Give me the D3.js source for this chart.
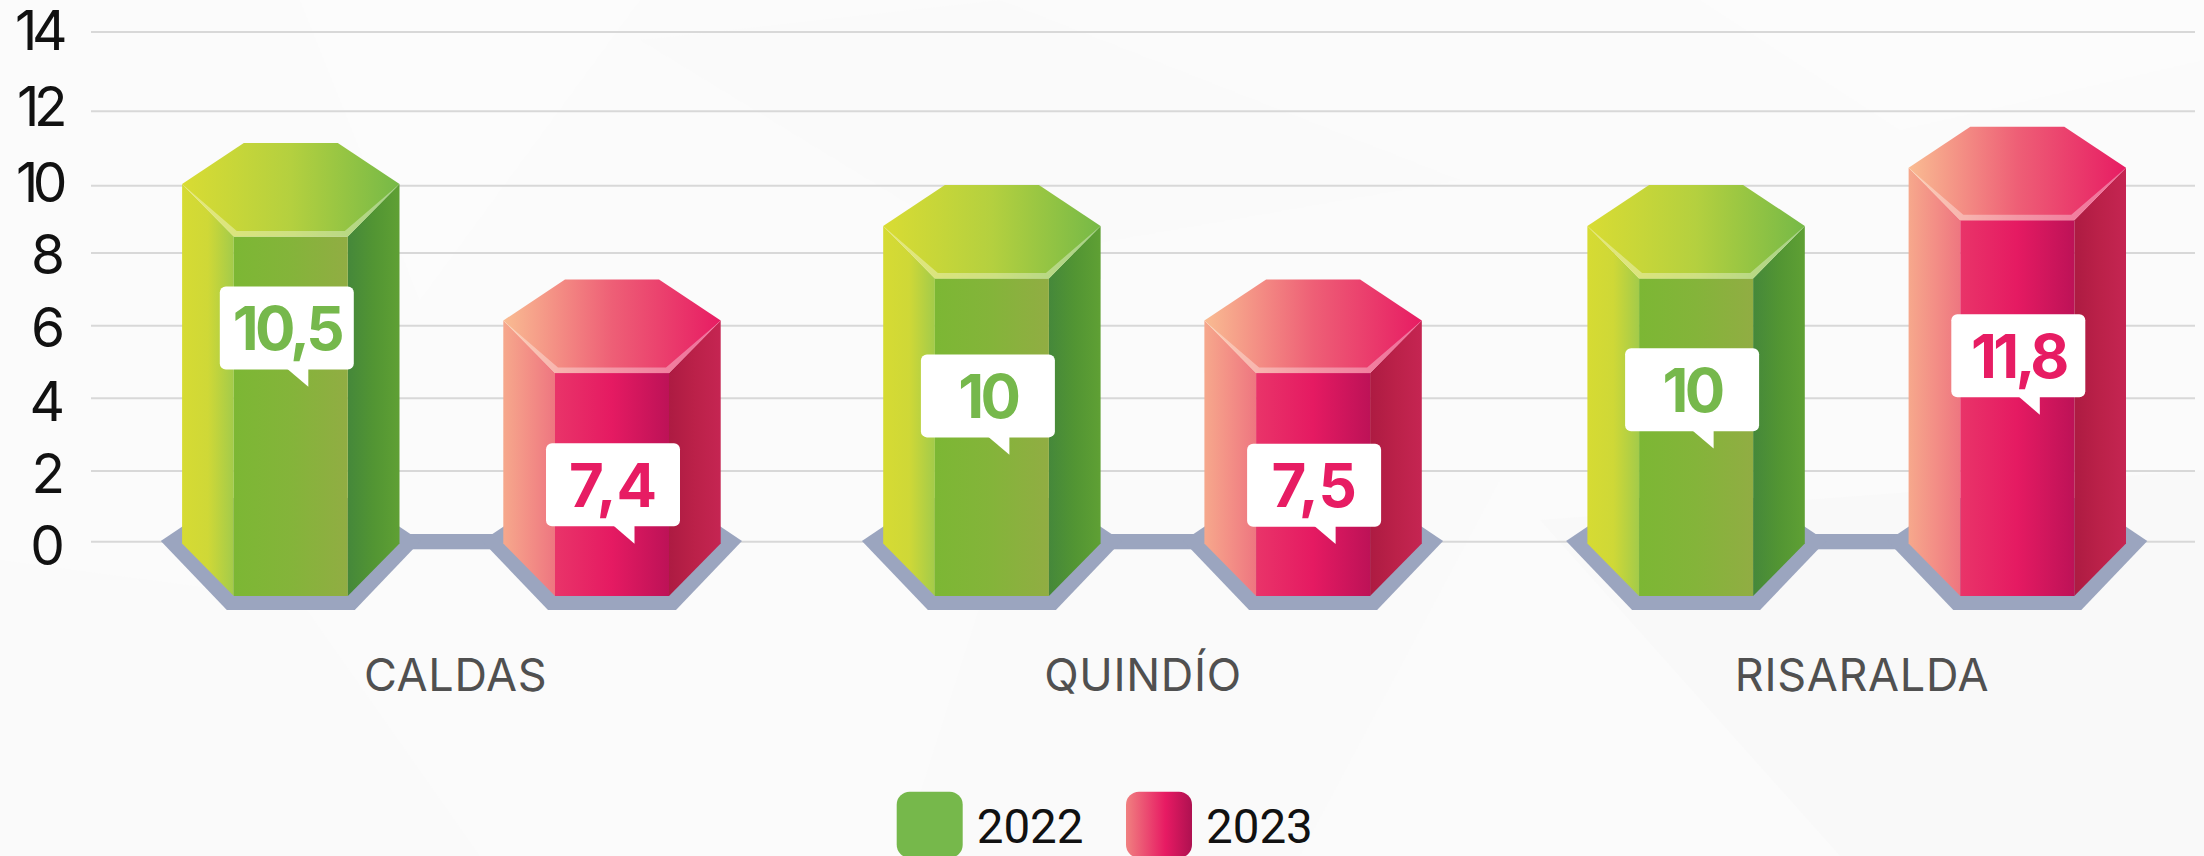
<!DOCTYPE html>
<html>
<head>
<meta charset="utf-8">
<script src="https://cdn.jsdelivr.net/npm/d3@7"></script>
<style>
  html, body { margin: 0; padding: 0; background: #fbfbfb; }
  svg { display: block; }
</style>
</head>
<body>
<div id="chart"></div>
<script>
// Data
const categories = ['CALDAS', 'QUINDÍO', 'RISARALDA'];
const seriesNames = ['2022', '2023'];
const values2022 = [10.5, 10, 10];
const values2023 = [7.4, 7.5, 11.8];
const yTicks = [0, 2, 4, 6, 8, 10, 12, 14];

// The columns are not drawn to their labels, so these are what they read on the axis
const levels2022 = [10.03, 8.79, 8.79];
const levels2023 = [6.13, 6.13, 10.47];
// Axis reading of the lower edge of each value bubble
const bubbleLevels2022 = [4.78, 2.91, 3.08];
const bubbleLevels2023 = [0.42, 0.41, 4.01];

const width = 2204;
const height = 856;

// The gridlines in the source are not evenly spaced
const y = d3.scaleLinear().domain(yTicks).range([541.2, 470.5, 397.7, 325.3, 252.5, 185.2, 110.7, 31.6]);
const yLabel = d3.scaleLinear().domain(yTicks).range([545, 473, 400.5, 327, 253.6, 181.7, 106, 30]);
const xGroup = d3.scaleOrdinal(categories, [451.4, 1152.5, 1856.7]);
const xLabel = d3.scaleOrdinal(categories, [455.6, 1143, 1862]);
const xSeries = d3.scaleOrdinal(seriesNames, [-160.6, 160.6]);

const styles = {
  '2022': {
    text: '#76b84c',
    left: ['#d6db33', '#cfd837', '#a3cb4a'],
    front: ['#7cb734', '#84b43a', '#91ad43'],
    right: ['#45883a', '#529533', '#5fa034'],
    top: ['#d9dc33', '#b4d03f', '#76b947']
  },
  '2023': {
    text: '#e71c63',
    left: ['#f6a88c', '#f38f86', '#ee7680'],
    front: ['#e93469', '#e51a62', '#bd1257'],
    right: ['#ad1b42', '#bb2149', '#c52552'],
    top: ['#f9bc92', '#ee5f76', '#e71c63']
  }
};

const svg = d3.select('#chart').append('svg').attr('width', width).attr('height', height);
const defs = svg.append('defs');

// One horizontal gradient per series and face
seriesNames.forEach(name => {
  ['left', 'front', 'right', 'top'].forEach(face => {
    const grad = defs.append('linearGradient').attr('id', `g${name}-${face}`);
    styles[name][face].forEach((c, i) => {
      grad.append('stop').attr('offset', i / 2).attr('stop-color', c);
    });
  });
});
const legendGrad = defs.append('linearGradient').attr('id', 'legend2023');
[['0', '#f08080'], ['0.6', '#e71a63'], ['1', '#ae1150']].forEach(s => {
  legendGrad.append('stop').attr('offset', s[0]).attr('stop-color', s[1]);
});

// Faint low-poly backdrop
svg.append('rect').attr('width', width).attr('height', height).attr('fill', '#fbfbfb');
const backdrop = [
  ['#fafafa', [[0, 560], [300, 600], [480, 856], [0, 856]]],
  ['#fcfcfc', [[300, 0], [640, 0], [420, 300]]],
  ['#fafafa', [[1020, 480], [1500, 480], [1300, 856], [900, 856]]],
  ['#f9f9f9', [[1540, 520], [2204, 470], [2204, 856], [1840, 856]]],
  ['#fcfcfc', [[1700, 0], [2204, 0], [2204, 60], [1900, 130]]],
  ['#fafafa', [[640, 40], [1000, 0], [1460, 180], [1000, 260]]]
];
svg.append('g').selectAll('polygon').data(backdrop).join('polygon')
  .attr('fill', d => d[0])
  .attr('points', d => d[1].join(' '));

// Gridlines
svg.append('g')
  .attr('transform', 'translate(91,0)')
  .call(d3.axisRight(y).tickValues(yTicks).tickSize(2104).tickFormat(''))
  .call(g => g.select('.domain').remove())
  .call(g => g.selectAll('line').attr('stroke', '#d8d8d8').attr('stroke-width', 2));

// Tick labels
svg.append('g')
  .attr('transform', 'translate(65,0)')
  .call(d3.axisLeft(yLabel).tickValues(yTicks).tickSize(0).tickPadding(0).tickFormat(d3.format('d')))
  .call(g => g.select('.domain').remove())
  .call(g => g.selectAll('text')
    .attr('fill', '#111')
    .attr('dy', '0.36em')
    .attr('dx', d => d > 9 ? -3 : 0)
    .style('font-family', 'Inter, sans-serif')
    .style('font-size', '55px')
    .style('letter-spacing', d => d > 9 ? '-0.1em' : '0'));

const marks = [];
categories.forEach((cat, i) => {
  marks.push({ cat, name: '2022', value: values2022[i], level: levels2022[i], bubble: bubbleLevels2022[i], nudge: -4 });
  marks.push({ cat, name: '2023', value: values2023[i], level: levels2023[i], bubble: bubbleLevels2023[i], nudge: 1 });
});

const polygon = d3.line().curve(d3.curveLinearClosed);

// Column shape, relative to the column centre
const halfBar = 108.7;
const halfFront = 57;
const halfTop = 47;
const sideBottom = 543.5;
const frontBottom = 596;
const topRise = 41;
const frontDrop = 52.5;

// Slate plinth under each group
const plinth = svg.append('g').attr('fill', '#9ba5bf');
plinth.selectAll('rect').data(categories).join('rect')
  .attr('x', d => xGroup(d) - 60)
  .attr('width', 120)
  .attr('y', 534)
  .attr('height', 15.3);
plinth.selectAll('path').data(marks).join('path')
  .attr('d', d => {
    const cx = xGroup(d.cat) + xSeries(d.name);
    return polygon([
      [cx - 130, 541], [cx - 66, 498], [cx + 66, 498],
      [cx + 130, 541], [cx + 64, 610], [cx - 64, 610]
    ]);
  });

const bars = svg.append('g').selectAll('g').data(marks).join('g');

bars.append('path')
  .attr('fill', d => `url(#g${d.name}-left)`)
  .attr('d', d => {
    const cx = xGroup(d.cat) + xSeries(d.name);
    const s = y(d.level);
    return polygon([[cx - halfBar, s], [cx - halfFront, s + frontDrop], [cx - halfFront, frontBottom], [cx - halfBar, sideBottom]]);
  });

bars.append('path')
  .attr('fill', d => `url(#g${d.name}-right)`)
  .attr('d', d => {
    const cx = xGroup(d.cat) + xSeries(d.name);
    const s = y(d.level);
    return polygon([[cx + halfFront, s + frontDrop], [cx + halfBar, s], [cx + halfBar, sideBottom], [cx + halfFront, frontBottom]]);
  });

bars.append('rect')
  .attr('fill', d => `url(#g${d.name}-front)`)
  .attr('x', d => xGroup(d.cat) + xSeries(d.name) - halfFront)
  .attr('width', halfFront * 2)
  .attr('y', d => y(d.level) + frontDrop)
  .attr('height', d => frontBottom - y(d.level) - frontDrop);

bars.append('path')
  .attr('fill', d => `url(#g${d.name}-top)`)
  .attr('d', d => {
    const cx = xGroup(d.cat) + xSeries(d.name);
    const s = y(d.level);
    return polygon([
      [cx - halfBar, s], [cx - halfTop, s - topRise], [cx + halfTop, s - topRise],
      [cx + halfBar, s], [cx + halfFront, s + frontDrop], [cx - halfFront, s + frontDrop]
    ]);
  });

// Light bevel along the front edge of the cap
bars.append('path')
  .attr('fill', '#fff')
  .attr('fill-opacity', 0.35)
  .attr('d', d => {
    const cx = xGroup(d.cat) + xSeries(d.name);
    const s = y(d.level);
    return polygon([
      [cx - halfBar, s], [cx - halfFront, s + frontDrop], [cx + halfFront, s + frontDrop],
      [cx + halfBar, s], [cx + halfFront - 3, s + frontDrop - 5.5], [cx - halfFront + 3, s + frontDrop - 5.5]
    ]);
  });

// Value bubbles
const bubbleW = 134;
const bubbleH = 83;
const bubbles = svg.append('g').selectAll('g').data(marks).join('g')
  .attr('transform', d => `translate(${xGroup(d.cat) + xSeries(d.name) + d.nudge},${y(d.bubble)})`);

bubbles.append('rect')
  .attr('x', -bubbleW / 2)
  .attr('y', -bubbleH)
  .attr('width', bubbleW)
  .attr('height', bubbleH)
  .attr('rx', 6)
  .attr('fill', '#fff');

bubbles.append('path')
  .attr('fill', '#fff')
  .attr('d', polygon([[0, -1], [21.5, 17.3], [21.5, -1]]));

bubbles.append('text')
  .attr('text-anchor', 'middle')
  .attr('y', -bubbleH / 2 + 22)
  .attr('fill', d => styles[d.name].text)
  .style('font-family', 'Inter, sans-serif')
  .style('font-weight', 700)
  .style('font-size', '60px')
  .style('letter-spacing', d => d.value === 7.4 || d.value === 7.5 ? '0' : '-0.06em')
  .text(d => String(d.value).replace('.', ','));

// Category labels
svg.append('g').selectAll('text').data(categories).join('text')
  .attr('x', d => xLabel(d))
  .attr('y', 691)
  .attr('text-anchor', 'middle')
  .attr('fill', '#505050')
  .style('font-family', 'Inter, sans-serif')
  .style('font-size', '45px')
  .style('font-weight', 400)
  .style('letter-spacing', '0.015em')
  .text(d => d);

// Legend
const legendX = d3.scaleOrdinal(seriesNames, [896.7, 1126]);
const legend = svg.append('g').selectAll('g').data(seriesNames).join('g')
  .attr('transform', d => `translate(${legendX(d)},791.7)`);

legend.append('rect')
  .attr('width', 66)
  .attr('height', 66)
  .attr('rx', 13)
  .attr('fill', d => d === '2022' ? '#76b84b' : 'url(#legend2023)');

legend.append('text')
  .attr('x', 80)
  .attr('y', 51)
  .attr('fill', '#111')
  .style('font-family', 'Roboto, sans-serif')
  .style('font-size', '47.5px')
  .text(d => d);
</script>
</body>
</html>
